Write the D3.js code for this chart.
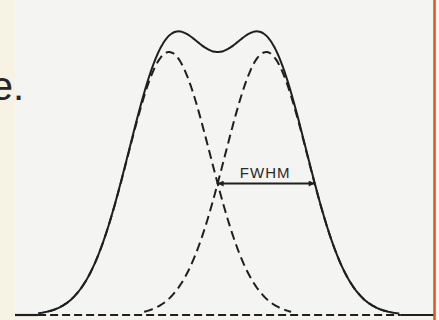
<!DOCTYPE html>
<html>
<head>
<meta charset="utf-8">
<script src="https://cdn.jsdelivr.net/npm/d3@7"></script>
<style>
  html, body { margin: 0; padding: 0; background: #f6f2e4; }
  svg { display: block; }
</style>
</head>
<body>
<svg id="chart" width="439" height="320"></svg>
<script>
// Two overlapping Gaussian peaks (dashed) and their sum (solid), with the FWHM marked.
const peakCenters = [36.7, 59.8];   // peak positions, x units
const peakFwhm = [23.1, 23.1];      // full width at half maximum, x units
const peakHeights = [1, 1];         // peak amplitudes
const curveStart = 5.5;             // where the drawn curves meet the baseline
const curveEnd = 91.7;
const fwhmLabel = "FWHM";
const sideText = "e.";

const W = 439, H = 320;
const svg = d3.select("#chart");

// page panels: cream margin, scanned sheet, orange rule
svg.append("rect").attr("x", 0).attr("y", 0).attr("width", W).attr("height", H).attr("fill", "#f6f2e4");
svg.append("rect").attr("x", 15).attr("y", 0).attr("width", 424).attr("height", 318).attr("fill", "#f4f4f2");
svg.append("rect").attr("x", 436).attr("y", 0).attr("width", 3).attr("height", H).attr("fill", "#f8f8f6");

svg.append("text")
  .attr("x", 24).attr("y", 100)
  .attr("text-anchor", "end")
  .attr("font-family", "Liberation Sans, Arial, sans-serif")
  .attr("font-size", 40)
  .attr("fill", "#262626")
  .text(sideText);

const x = d3.scaleLinear().domain([0, 100]).range([15, 435]);
const y = d3.scaleLinear().domain([0, 1]).range([315, 52]);

const sigma = peakFwhm.map(f => f / (2 * Math.sqrt(2 * Math.log(2))));
const gauss = (i, t) => peakHeights[i] * Math.exp(-((t - peakCenters[i]) ** 2) / (2 * sigma[i] ** 2));
const total = t => peakCenters.reduce((s, _, i) => s + gauss(i, t), 0);

const xs = d3.range(curveStart, curveEnd + 0.001, 0.25);
const line = d3.line().x(d => x(d[0])).y(d => y(d[1])).curve(d3.curveBasis);

const ink = "#1f1f1f";

// dashed baseline between the curve ends, solid beyond
svg.append("line")
  .attr("x1", x(curveStart)).attr("x2", x(curveEnd))
  .attr("y1", y(0)).attr("y2", y(0))
  .attr("stroke", ink).attr("stroke-width", 2.2)
  .attr("stroke-dasharray", "8,4");
[[0, curveStart], [curveEnd, 100]].forEach(([a, b]) => {
  svg.append("line")
    .attr("x1", x(a)).attr("x2", x(b))
    .attr("y1", y(0)).attr("y2", y(0))
    .attr("stroke", ink).attr("stroke-width", 2.2);
});

// individual peaks
peakCenters.forEach((c, i) => {
  const pts = xs.map(t => [t, gauss(i, t)]).filter(d => d[1] > 0.012);
  svg.append("path")
    .attr("d", line(pts))
    .attr("fill", "none")
    .attr("stroke", ink)
    .attr("stroke-width", 2)
    .attr("stroke-dasharray", "9,5");
});

// summed profile
svg.append("path")
  .attr("d", line(xs.map(t => [t, total(t)])))
  .attr("fill", "none")
  .attr("stroke", ink)
  .attr("stroke-width", 2);

// FWHM arrow across the right-hand peak at half height
const defs = svg.append("defs");
defs.append("marker")
  .attr("id", "head")
  .attr("viewBox", "0 0 10 10")
  .attr("refX", 10).attr("refY", 5)
  .attr("markerWidth", 7).attr("markerHeight", 6)
  .attr("markerUnits", "userSpaceOnUse")
  .attr("orient", "auto-start-reverse")
  .append("path").attr("d", "M0,0 L10,5 L0,10 z").attr("fill", ink);

const xl = peakCenters[1] - peakFwhm[1] / 2;
const xr = peakCenters[1] + peakFwhm[1] / 2;
const yh = peakHeights[1] / 2;
svg.append("line")
  .attr("x1", x(xl)).attr("x2", x(xr))
  .attr("y1", y(yh)).attr("y2", y(yh))
  .attr("stroke", ink).attr("stroke-width", 2)
  .attr("marker-start", "url(#head)")
  .attr("marker-end", "url(#head)");

svg.append("text")
  .attr("x", x((xl + xr) / 2) - 1)
  .attr("y", y(yh) - 6)
  .attr("text-anchor", "middle")
  .attr("font-family", "Liberation Sans, Arial, sans-serif")
  .attr("font-size", 15)
  .attr("letter-spacing", 1)
  .attr("fill", "#2a2a2a")
  .text(fwhmLabel);

// orange rule on the right
svg.append("line")
  .attr("x1", 434.5).attr("x2", 434.5)
  .attr("y1", 0).attr("y2", H)
  .attr("stroke", "#e2541c").attr("stroke-width", 2.5);
</script>
</body>
</html>
